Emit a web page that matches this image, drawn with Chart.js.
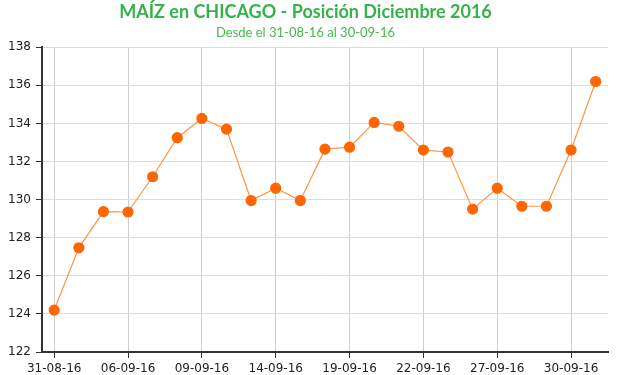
<!DOCTYPE html>
<html>
<head>
<meta charset="utf-8">
<script src="https://cdn.jsdelivr.net/npm/chart.js@4"></script>
<style>
  body { margin: 0; background: #fff; }
  #wrap { width: 620px; height: 375px; }
</style>
</head>
<body>
<div id="wrap"><canvas id="chart"></canvas></div>
<script>
// fechas (ruedas) y precios
const fechas = [
  "31-08-16", "01-09-16", "02-09-16", "06-09-16", "07-09-16", "08-09-16",
  "09-09-16", "12-09-16", "13-09-16", "14-09-16", "15-09-16", "16-09-16",
  "19-09-16", "20-09-16", "21-09-16", "22-09-16", "23-09-16", "26-09-16",
  "27-09-16", "28-09-16", "29-09-16", "30-09-16", "03-10-16"
];
const precios = [
  124.2, 127.47, 129.37, 129.35, 131.2, 133.25, 134.26, 133.7, 129.95,
  130.6, 129.95, 132.65, 132.75, 134.05, 133.85, 132.6, 132.5, 129.5,
  130.6, 129.65, 129.65, 132.6, 136.2
];
const yTicks = { min: 122, max: 138, step: 2 };
const cadaN = 3; // mostrar una etiqueta cada 3 ruedas

const ctx = document.getElementById("chart").getContext("2d");

new Chart(ctx, {
  type: "line",
  data: {
    labels: fechas,
    datasets: [
      {
        label: "Maíz",
        data: precios,
        borderColor: "#ff9540",
        borderWidth: 1.2,
        pointBackgroundColor: "#ff6600",
        pointBorderColor: "#ff6600",
        pointRadius: 5,
        tension: 0,
      },
    ],
  },
  options: {
    responsive: true,
    maintainAspectRatio: false,
    animation: false,
    layout: { padding: { left: 3, right: 12, top: 1, bottom: -5 } },
    plugins: {
      legend: { display: false },
      tooltip: { enabled: false },
      title: {
        display: true,
        text: "MAÍZ en CHICAGO - Posición Diciembre 2016",
        color: "#35b34a",
        font: { family: "Lato", size: 18, weight: "bold" },
        padding: { top: 0, bottom: 2 },
      },
      subtitle: {
        display: true,
        text: "Desde el 31-08-16 al 30-09-16",
        color: "#45b94a",
        font: { family: "Lato", size: 13 },
        padding: { top: 0, bottom: 7 },
      },
    },
    scales: {
      x: {
        offset: true,
        grid: {
          offset: false,
          color: (c) => (c.index % cadaN === 0 ? "#cfcfcf" : "transparent"),
          tickColor: (c) => (c.index % cadaN === 0 ? "#333" : "transparent"),
          tickLength: 6,
        },
        border: { color: "#333", width: 2 },
        ticks: {
          autoSkip: false,
          maxRotation: 0,
          padding: 5,
          color: "#222",
          font: { family: "DejaVu Sans", size: 12, lineHeight: 1 },
          callback: function (val, i) {
            return i % cadaN === 0 ? this.getLabelForValue(val) : "";
          },
        },
      },
      y: {
        min: yTicks.min,
        max: yTicks.max,
        grid: { color: "#dcdcdc", tickColor: "#333", tickLength: 6 },
        border: { color: "#333", width: 2 },
        ticks: {
          stepSize: yTicks.step,
          padding: 5,
          color: "#222",
          font: { family: "DejaVu Sans", size: 12 },
        },
      },
    },
  },
});
</script>
</body>
</html>
